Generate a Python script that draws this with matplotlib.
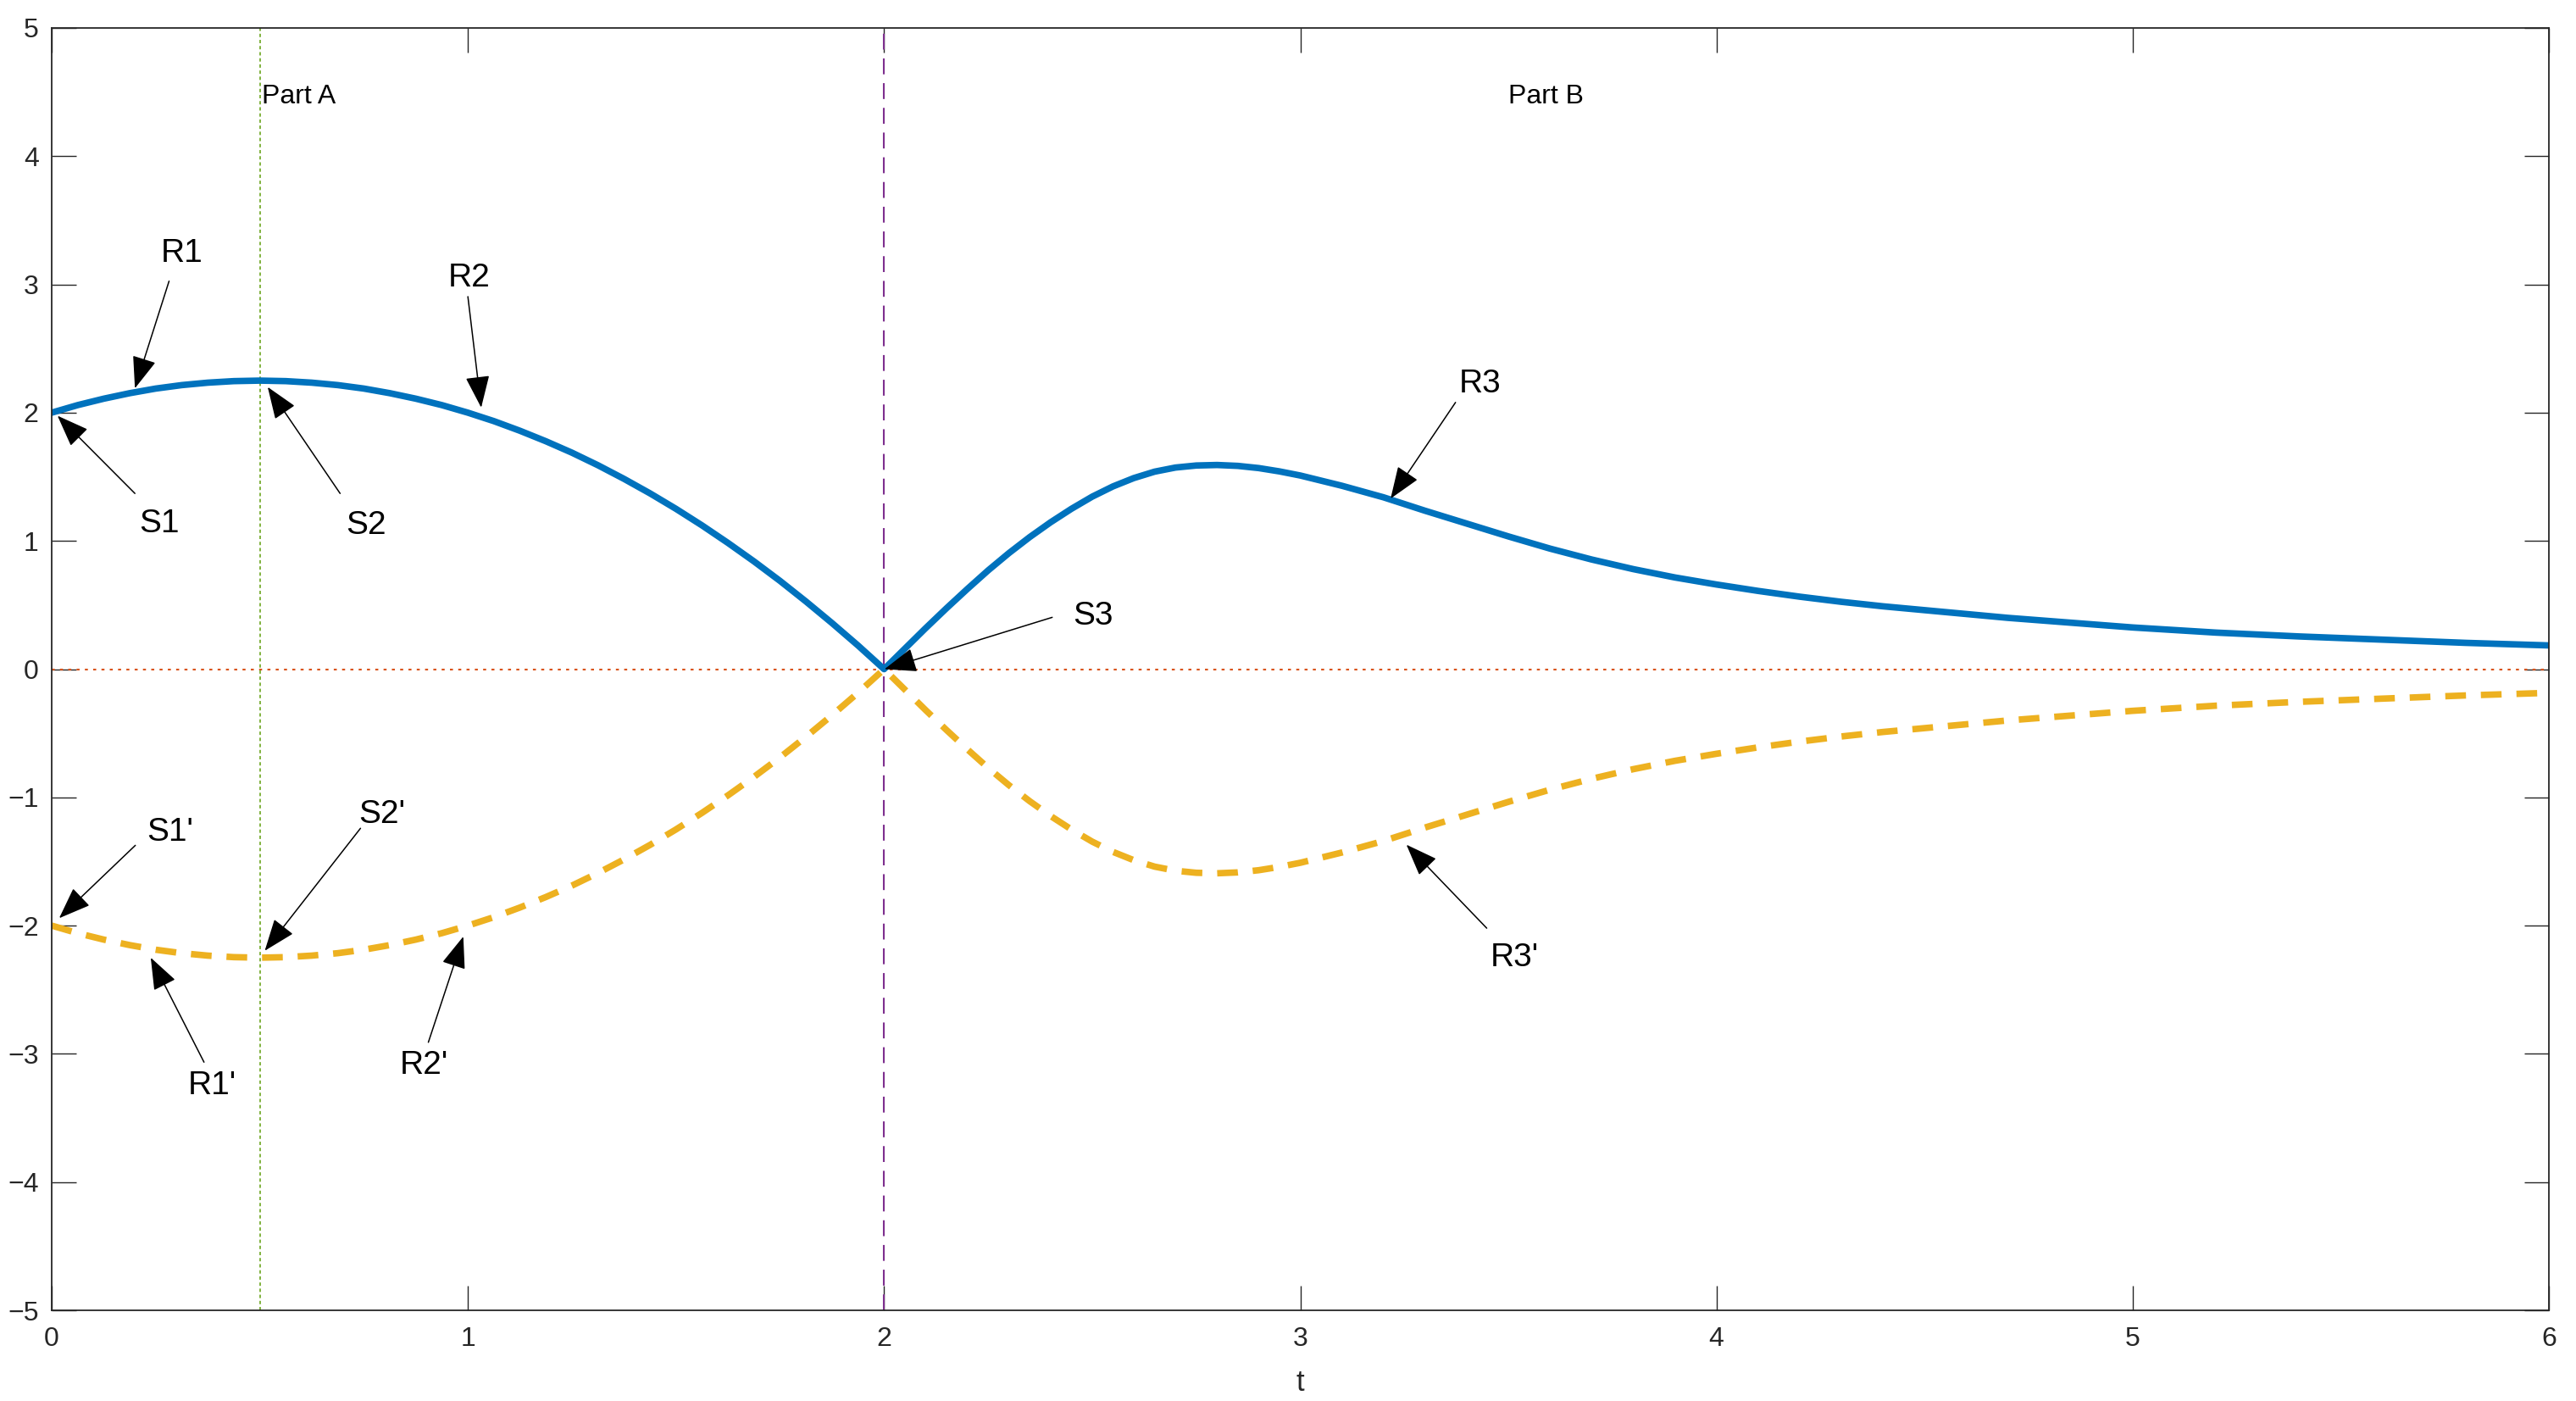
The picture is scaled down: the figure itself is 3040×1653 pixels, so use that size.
import matplotlib
matplotlib.use('Agg')
import matplotlib.pyplot as plt
from matplotlib.transforms import offset_copy

# curve: part A (0..2) and part B (2..6)
t_a = [0, 0.0625, 0.125, 0.1875, 0.25, 0.3125, 0.375, 0.4375, 0.5, 0.5625, 0.625, 0.6875, 0.75, 0.8125,
       0.875, 0.9375, 1.0, 1.0625, 1.125, 1.1875, 1.25, 1.3125, 1.375, 1.4375, 1.5, 1.5625, 1.625, 1.6875,
       1.75, 1.8125, 1.875, 1.9375, 2.0]
x_a = [2.0, 2.059, 2.109, 2.152, 2.188, 2.215, 2.234, 2.246, 2.25, 2.246, 2.234, 2.215, 2.188, 2.152,
       2.109, 2.059, 2.0, 1.934, 1.859, 1.777, 1.688, 1.59, 1.484, 1.371, 1.25, 1.121, 0.984, 0.84,
       0.688, 0.527, 0.359, 0.184, 0.0]
x_a_neg = [-2.0, -2.059, -2.109, -2.152, -2.188, -2.215, -2.234, -2.246, -2.25, -2.246, -2.234, -2.215, -2.188, -2.152,
           -2.109, -2.059, -2.0, -1.934, -1.859, -1.777, -1.688, -1.59, -1.484, -1.371, -1.25, -1.121, -0.984, -0.84,
           -0.688, -0.527, -0.359, -0.184, 0.0]

t_b = [2.0, 2.05, 2.1, 2.15, 2.2, 2.25, 2.3, 2.35, 2.4, 2.45, 2.5, 2.55, 2.6, 2.65, 2.7, 2.75, 2.8, 2.85,
       2.9, 2.95, 3.0, 3.1, 3.2, 3.3, 3.4, 3.5, 3.6, 3.7, 3.8, 3.9, 4.0, 4.1, 4.2, 4.3, 4.4, 4.5, 4.6,
       4.7, 4.8, 4.9, 5.0, 5.2, 5.4, 5.6, 5.8, 6.0]
x_b = [0.0, 0.16, 0.32, 0.475, 0.625, 0.77, 0.905, 1.03, 1.145, 1.25, 1.345, 1.425, 1.49, 1.54, 1.572, 1.588,
       1.592, 1.585, 1.568, 1.542, 1.51, 1.43, 1.34, 1.235, 1.135, 1.035, 0.94, 0.855, 0.78, 0.715, 0.66, 0.61,
       0.565, 0.525, 0.49, 0.46, 0.43, 0.4, 0.375, 0.35, 0.325, 0.285, 0.255, 0.23, 0.205, 0.185]
x_b_neg = [0.0, -0.16, -0.32, -0.475, -0.625, -0.77, -0.905, -1.03, -1.145, -1.25, -1.345, -1.425, -1.49, -1.54, -1.572, -1.588,
           -1.592, -1.585, -1.568, -1.542, -1.51, -1.43, -1.34, -1.235, -1.135, -1.035, -0.94, -0.855, -0.78, -0.715, -0.66, -0.61,
           -0.565, -0.525, -0.49, -0.46, -0.43, -0.4, -0.375, -0.35, -0.325, -0.285, -0.255, -0.23, -0.205, -0.185]

# labels: text position, arrow tail, arrow tip
labels = ['R1', 'R2', 'S1', 'S2', 'R3', 'S3', "S1'", "S2'", "R1'", "R2'", "R3'"]
label_pos = [(0.312, 3.28), (1.003, 3.085), (0.259, 1.168), (0.756, 1.155), (3.432, 2.26), (2.502, 0.448),
             (0.285, -1.237), (0.794, -1.094), (0.385, -3.209), (0.894, -3.055), (3.515, -2.215)]
arrow_tail = [(0.282, 3.026), (1.0, 2.905), (0.2, 1.37), (0.693, 1.37), (3.373, 2.08), (2.404, 0.404),
              (0.201, -1.374), (0.742, -1.241), (0.366, -3.065), (0.905, -2.91), (3.448, -2.02)]
arrow_tip = [(0.2, 2.19), (1.032, 2.04), (0.014, 1.976), (0.519, 2.2), (3.217, 1.33), (2.001, 0.0),
             (0.018, -1.942), (0.512, -2.196), (0.238, -2.25), (0.989, -2.085), (3.255, -1.369)]

plt.rcParams['font.family'] = ['Liberation Sans', 'DejaVu Sans']

fig = plt.figure(figsize=(30.4, 16.53), dpi=100)
ax = fig.add_axes([61 / 3040, 1 - 1546 / 1653, (3008 - 61) / 3040, 1513 / 1653])

# reference lines
ax.axhline(0, color='#D95319', lw=1.5, linestyle=(0, (1.7, 3)))
ax.axvline(0.5, color='#77AC30', lw=1.3, linestyle=(0, (2.2, 1.8)))
ax.axvline(2, color='#7E2F8E', lw=1.5, linestyle=(0, (9, 5)))

# curves
ax.plot(t_a + t_b[1:], x_a + x_b[1:], color='#0072BD', lw=5.5, solid_joinstyle='round')
ax.plot(t_a + t_b[1:], x_a_neg + x_b_neg[1:], color='#EDB120', lw=5.5, linestyle=(0, (3.2, 2.3)))

# text a bit lower than the bbox centre so the caps sit where they do in the reference
txt_tr = offset_copy(ax.transData, fig=fig, y=-4, units='points')

for name, pos, tail, tip in zip(labels, label_pos, arrow_tail, arrow_tip):
    ax.annotate('', xy=tip, xytext=tail,
                arrowprops=dict(arrowstyle='-|>,head_length=0.95,head_width=0.36', mutation_scale=25,
                                color='black', lw=1.1, shrinkA=0, shrinkB=0))
    ax.text(pos[0], pos[1], name, fontsize=28, ha='center', va='center', transform=txt_tr)

ax.text(0.505, 4.5, 'Part A', fontsize=23, ha='left', va='center', transform=txt_tr)
ax.text(3.5, 4.5, 'Part B', fontsize=23, ha='left', va='center', transform=txt_tr)

ax.set_xlim(0, 6)
ax.set_ylim(-5, 5)
ax.set_xticks(range(0, 7))
ax.set_yticks(range(-5, 6))
ax.tick_params(direction='in', length=21, width=1.0, colors='#262626', labelsize=23,
               top=True, right=True)
ax.tick_params(axis='x', pad=14)
ax.tick_params(axis='y', pad=11)
ax.set_xlabel('t', fontsize=25, color='#262626', labelpad=14)
for s in ax.spines.values():
    s.set_linewidth(1.3)
    s.set_color('#262626')

plt.savefig('out.png', dpi=100)
